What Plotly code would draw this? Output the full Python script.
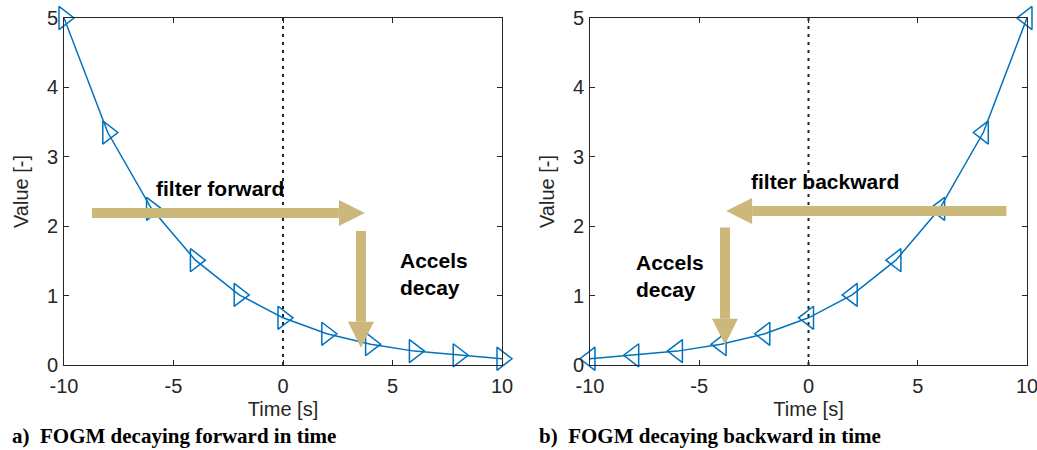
import plotly.graph_objects as go

# ---------------- data ----------------
time_s = [-10, -8, -6, -4, -2, 0, 2, 4, 6, 8, 10]
value_forward = [5.0, 3.35, 2.25, 1.51, 1.01, 0.68, 0.45, 0.30, 0.20, 0.14, 0.09]
value_backward = [0.09, 0.14, 0.20, 0.30, 0.45, 0.68, 1.01, 1.51, 2.25, 3.35, 5.0]
x_ticks = [-10, -5, 0, 5, 10]
y_ticks = [0, 1, 2, 3, 4, 5]

# arrows: (tail_x, tail_y, tip_x, tip_y) in data units
arrows_a = [(-8.72, 2.19, 3.74, 2.19), (3.56, 1.93, 3.56, 0.25)]
arrows_b = [(9.06, 2.22, -3.77, 2.22), (-3.82, 1.98, -3.82, 0.29)]

# ---------------- layout geometry ----------------
W, H = 1037, 450
ML, MR, MT, MB = 64, 10, 18, 85
PW, PH = W - ML - MR, H - MT - MB
ax_a = (64, 502)
ax_b = (590, 1027)

def px_to_paper_x(px):
    return (px - ML) / PW

def px_to_paper_y(py):
    return (H - MB - py) / PH

LINE_C = "#0072BD"
ARROW_C = "#CDB87C"
AX_C = "#262626"
FONT = "Liberation Sans, Arial, sans-serif"
SERIF = "Liberation Serif, Times New Roman, serif"
TICK_SIZE = 20

fig = go.Figure()
for xs, ys, sym, xa, ya in [
    (time_s, value_forward, "triangle-right-open", "x", "y"),
    (time_s, value_backward, "triangle-left-open", "x2", "y2"),
]:
    fig.add_trace(go.Scatter(
        x=xs, y=ys, mode="lines+markers", xaxis=xa, yaxis=ya,
        line=dict(color=LINE_C, width=1.5),
        marker=dict(symbol=sym, size=20, color=LINE_C, line=dict(width=1.5, color=LINE_C)),
        showlegend=False, hoverinfo="skip", cliponaxis=False,
    ))

def axis_common(domain, vals, rng, anchor, title, standoff, label_standoff):
    return dict(
        domain=domain, range=rng, tickvals=vals, ticktext=[str(v) for v in vals],
        showline=True, linecolor=AX_C, linewidth=1, mirror="ticks",
        ticks="inside", ticklen=5, tickcolor=AX_C, tickwidth=1,
        showgrid=False, zeroline=False, anchor=anchor, automargin=False,
        ticklabeloverflow="allow", ticklabelstandoff=label_standoff,
        tickfont=dict(family=FONT, size=TICK_SIZE, color=AX_C),
        title=dict(text=title, font=dict(family=FONT, size=TICK_SIZE, color=AX_C), standoff=standoff),
    )

dom_y = [0, 1]
dom_xa = [px_to_paper_x(ax_a[0]), px_to_paper_x(ax_a[1])]
dom_xb = [px_to_paper_x(ax_b[0]), px_to_paper_x(ax_b[1])]

xa = axis_common(dom_xa, x_ticks, [-10, 10], "y", "Time [s]", 5, 3)
xb = axis_common(dom_xb, x_ticks, [-10, 10], "y2", "Time [s]", 5, 3)
ya = axis_common(dom_y, y_ticks, [0, 5], "x", "Value [-]", 12, 1)
yb = axis_common(dom_y, y_ticks, [0, 5], "x2", "Value [-]", 12, 1)

shapes = []
# dotted zero lines
for xr, yr in [("x", "y"), ("x2", "y2")]:
    shapes.append(dict(type="line", xref=xr, yref=yr, x0=0, x1=0, y0=0, y1=5,
                       line=dict(color="#222222", width=2, dash="3px,5px"), layer="below"))

HEAD_LEN = 26
HEAD_HALF = 13
SHAFT_W = 10

def add_arrows(arrows, xr, yr, axpx):
    px_x = (axpx[1] - axpx[0]) / 20.0
    px_y = PH / 5.0
    for (tx, ty, hx, hy) in arrows:
        if ty == hy:  # horizontal
            sgn = 1 if hx > tx else -1
            bx = hx - sgn * HEAD_LEN / px_x
            shapes.append(dict(type="line", xref=xr, yref=yr, x0=tx, x1=bx, y0=ty, y1=hy,
                               line=dict(color=ARROW_C, width=SHAFT_W)))
            path = f"M 0 0 L {-sgn*HEAD_LEN} {HEAD_HALF} L {-sgn*HEAD_LEN} {-HEAD_HALF} Z"
        else:  # vertical
            sgn = 1 if hy > ty else -1
            by = hy - sgn * HEAD_LEN / px_y
            shapes.append(dict(type="line", xref=xr, yref=yr, x0=tx, x1=hx, y0=ty, y1=by,
                               line=dict(color=ARROW_C, width=SHAFT_W)))
            path = f"M 0 0 L {HEAD_HALF} {-sgn*HEAD_LEN} L {-HEAD_HALF} {-sgn*HEAD_LEN} Z"
        shapes.append(dict(type="path", xref=xr, yref=yr, xsizemode="pixel", ysizemode="pixel",
                           xanchor=hx, yanchor=hy, path=path,
                           fillcolor=ARROW_C, line=dict(width=0)))

add_arrows(arrows_a, "x", "y", ax_a)
add_arrows(arrows_b, "x2", "y2", ax_b)

bold = dict(family=FONT, size=21, color="black")
cap_font = dict(family=SERIF, size=21, color="black")
annotations = [
    dict(text="<b>filter forward</b>", x=-2.88, y=2.55, xref="x", yref="y",
         showarrow=False, font=bold, xanchor="center", yanchor="middle"),
    dict(text="<b>Accels<br>decay</b>", x=5.25, y=1.31, xref="x", yref="y",
         showarrow=False, font=bold, xanchor="left", yanchor="middle", align="left"),
    dict(text="<b>filter backward</b>", x=0.77, y=2.65, xref="x2", yref="y2",
         showarrow=False, font=bold, xanchor="center", yanchor="middle"),
    dict(text="<b>Accels<br>decay</b>", x=-7.98, y=1.28, xref="x2", yref="y2",
         showarrow=False, font=bold, xanchor="left", yanchor="middle", align="left"),
    dict(text="<b>a)  FOGM decaying forward in time</b>", x=px_to_paper_x(10), y=px_to_paper_y(436),
         xref="paper", yref="paper", showarrow=False, xanchor="left", yanchor="middle",
         font=cap_font),
    dict(text="<b>b)  FOGM decaying backward in time</b>", x=px_to_paper_x(537), y=px_to_paper_y(436),
         xref="paper", yref="paper", showarrow=False, xanchor="left", yanchor="middle",
         font=cap_font),
]

fig.update_layout(
    width=W, height=H, margin=dict(l=ML, r=MR, t=MT, b=MB, autoexpand=False),
    plot_bgcolor="white", paper_bgcolor="white",
    xaxis=xa, yaxis=ya, xaxis2=xb, yaxis2=yb,
    shapes=shapes, annotations=annotations, showlegend=False,
)
fig.write_html("out.html")
